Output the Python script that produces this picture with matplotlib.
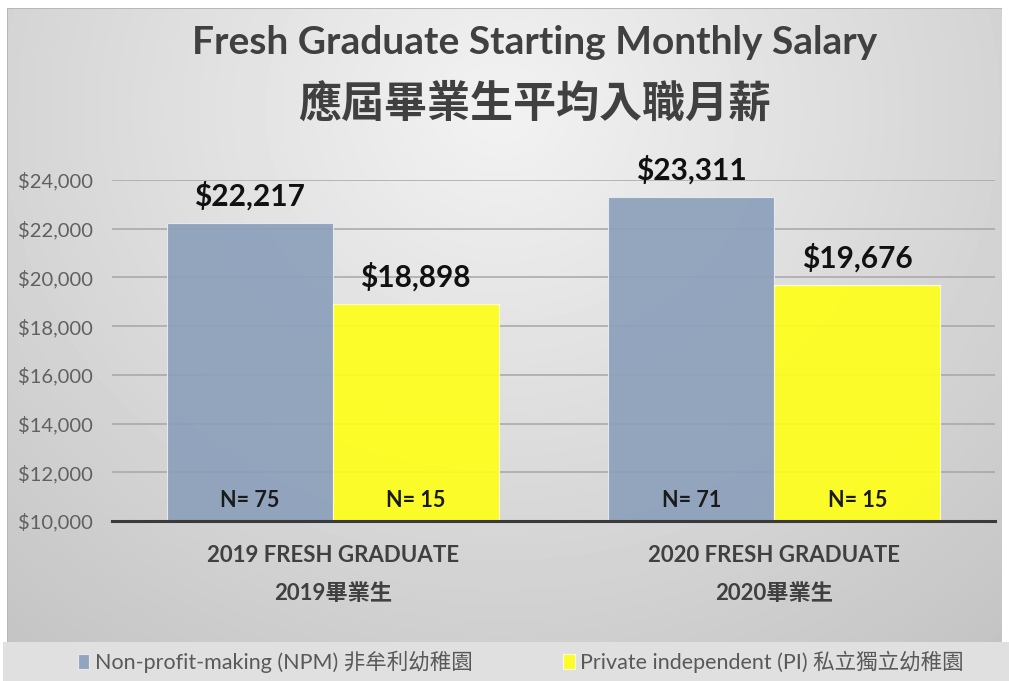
import numpy as np
import matplotlib.pyplot as plt
from matplotlib.ticker import FuncFormatter

plt.rcParams['font.family'] = ['Lato', 'Noto Sans CJK TC', 'DejaVu Sans']

# data
categories = ['2019 FRESH GRADUATE\n2019畢業生', '2020 FRESH GRADUATE\n2020畢業生']
series_names = ['Non-profit-making (NPM) 非牟利幼稚園', 'Private independent (PI) 私立獨立幼稚園']
npm_salary = [22217, 23311]
pi_salary = [18898, 19676]
npm_n = [75, 71]
pi_n = [15, 15]

W, H = 1009, 681
fig = plt.figure(figsize=(W / 100, H / 100), dpi=100)
fig.patch.set_facecolor('white')

# slide background: soft radial grey gradient plus light legend strip
bg = fig.add_axes([0, 0, 1, 1], zorder=-10)
yy, xx = np.mgrid[0:H, 0:W]
d = np.hypot((xx - 500) / 1.0, (yy - 110) / 0.9)
shade = 0.95 - 0.17 * np.clip(d / 720, 0, 1.2)
img = np.ones((H, W))
slide = (xx >= 7) & (xx <= 1001) & (yy >= 8) & (yy < 642)
img[slide] = shade[slide]
img[(yy >= 8) & (yy < 9) & (xx >= 7) & (xx <= 1001)] = 0.72
img[(xx >= 7) & (xx < 8) & (yy >= 8) & (yy < 642)] = 0.72
img[(yy >= 642) & (xx >= 3)] = 0.875
bg.imshow(img, cmap='gray', vmin=0, vmax=1, aspect='auto', interpolation='bilinear')
bg.set_axis_off()

ax = fig.add_axes([112 / W, 1 - 521 / H, (995 - 112) / W, (521 - 180) / H])
ax.patch.set_alpha(0)

x = np.arange(len(categories))
w = 0.376
bars1 = ax.bar(x - w / 2, npm_salary, w, color='#8DA0BB', alpha=0.92,
               edgecolor='#E8ECF2', linewidth=0.8, zorder=2, label=series_names[0])
bars2 = ax.bar(x + w / 2, pi_salary, w, color='#FFFF1A', alpha=0.92,
               edgecolor='#FFFFE0', linewidth=0.8, zorder=2, label=series_names[1])

ax.set_ylim(10000, 24000)
ax.set_xlim(-0.5, 1.5)
ax.set_yticks(range(10000, 24001, 2000))
ax.yaxis.set_major_formatter(FuncFormatter(lambda v, p: f'${v:,.0f}'))
ax.grid(axis='y', color='#A6A6A6', linewidth=1.1, zorder=1)
ax.set_axisbelow(True)
for s in ['left', 'right', 'top']:
    ax.spines[s].set_visible(False)
ax.spines['bottom'].set_color('#3A3A3A')
ax.spines['bottom'].set_linewidth(2.2)
ax.spines['bottom'].set_zorder(3)
ax.tick_params(axis='both', length=0)
ax.tick_params(axis='y', labelsize=14.5, labelcolor='#606060', pad=14)
ax.set_xticks(x)
ax.set_xticklabels(categories, fontsize=16, fontweight='bold', color='#404040',
                   linespacing=2.05)
ax.tick_params(axis='x', pad=17)

for bars, ns in [(bars1, npm_n), (bars2, pi_n)]:
    for b, n in zip(bars, ns):
        cx = b.get_x() + b.get_width() / 2
        ax.annotate(f'${b.get_height():,.0f}', (cx, b.get_height()), xytext=(0, 9),
                    textcoords='offset points', ha='center', va='bottom',
                    fontsize=21.5, fontweight='bold', color='#111111', annotation_clip=False)
        ax.annotate(f'N= {n}', (cx, 10000), xytext=(0, 15), textcoords='offset points',
                    ha='center', va='center', fontsize=15.5, fontweight='bold', color='#1A1A1A')

fig.text(0.53, 1 - 42 / H, 'Fresh Graduate Starting Monthly Salary', ha='center', va='center',
         fontsize=28, fontweight='bold', color='#404040')
fig.text(0.53, 1 - 103 / H, '應屆畢業生平均入職月薪', ha='center', va='center',
         fontsize=31, fontweight='bold', color='#404040')

leg = fig.legend(loc='center', bbox_to_anchor=(0.516, 1 - 662 / H), ncol=2, frameon=False,
                 fontsize=15.5, handlelength=0.55, handleheight=0.7, handletextpad=0.25,
                 columnspacing=4.2)
for t in leg.get_texts():
    t.set_color('#595959')

fig.savefig('out.png', dpi=100)
